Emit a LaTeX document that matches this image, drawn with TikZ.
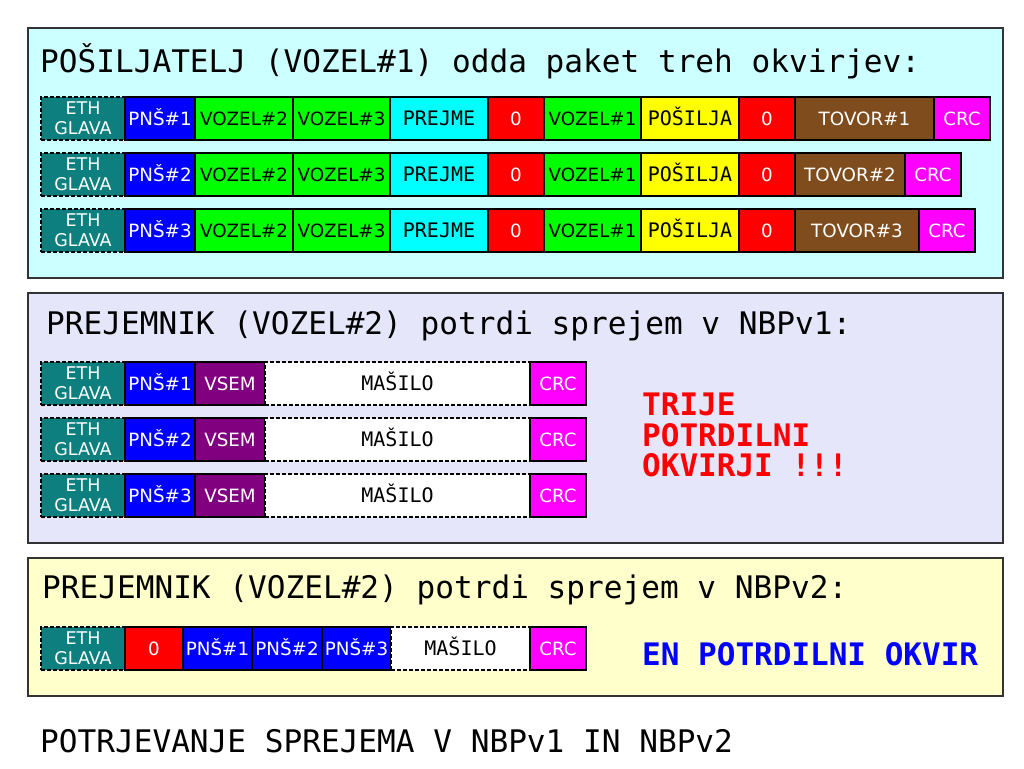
\documentclass[tikz,border=0pt]{standalone}
\usepackage{fontspec}
\setmainfont{DejaVu Sans}
\newfontfamily\monof{DejaVu Sans Mono}
\definecolor{pone}{HTML}{CCFFFF}
\definecolor{ptwo}{HTML}{E6E6FA}
\definecolor{pthree}{HTML}{FFFFCC}
\definecolor{ethc}{HTML}{0E7F7F}
\definecolor{grn}{HTML}{00FF00}
\definecolor{brn}{HTML}{7F4C1E}
\definecolor{purp}{HTML}{800080}
\definecolor{bordc}{HTML}{333333}
\definecolor{cyn}{HTML}{00FFFF}
\definecolor{mgt}{HTML}{FF00FF}
\definecolor{blu}{HTML}{0000FF}
\definecolor{rd}{HTML}{FF0000}
\definecolor{yel}{HTML}{FFFF00}
\begin{document}
\begin{tikzpicture}[x=1pt,y=-1pt,
  panelbox/.style={draw=bordc,line width=1.4pt},
  titletext/.style={anchor=west,inner sep=0pt,font=\monof\fontsize{31.1}{32}\selectfont},
  cellbox/.style={draw=black,line width=1.2pt,anchor=north west,minimum height=43pt,inner sep=0pt,outer sep=0pt,align=center,font=\fontsize{18.3}{20}\selectfont},
  oneline/.style={text height=14pt,text depth=0pt},
  monotext/.style={font=\monof\fontsize{20}{20}\selectfont},
  cetb/.style={cellbox,fill=ethc,text=white,dashed,dash pattern=on 4pt off 2pt,font=\fontsize{17.5}{20}\selectfont},
  cpnb/.style={cellbox,oneline,fill=blu,text=white},
  cvzb/.style={cellbox,oneline,fill=grn,text=black},
  cprb/.style={cellbox,oneline,fill=cyn,text=black,monotext},
  czrb/.style={cellbox,oneline,fill=rd,text=white},
  cpsb/.style={cellbox,oneline,fill=yel,text=black,monotext},
  ctvb/.style={cellbox,oneline,fill=brn,text=white},
  ccrb/.style={cellbox,oneline,fill=mgt,text=white},
  cvsb/.style={cellbox,oneline,fill=purp,text=white},
  cmsb/.style={cellbox,oneline,fill=white,text=black,dashed,dash pattern=on 4pt off 2pt,monotext},
  notetext/.style={anchor=north west,inner sep=0pt,align=left,font=\monof\bfseries\fontsize{31}{30.5}\selectfont}
]
\useasboundingbox[fill=white] (0,0) rectangle (1024,768);
% panels
\draw[panelbox,fill=pone] (28,28) rectangle (1003,278);
\draw[panelbox,fill=ptwo] (28,293) rectangle (1003,543);
\draw[panelbox,fill=pthree] (28,558) rectangle (1003,696);
% titles
\node[titletext] (t1) at (40,61) {POŠILJATELJ (VOZEL\#1) odda paket treh okvirjev:};
\node[titletext] (t2) at (46,326) {PREJEMNIK (VOZEL\#2) potrdi sprejem v NBPv1:};
\node[titletext] (t3) at (42,590) {PREJEMNIK (VOZEL\#2) potrdi sprejem v NBPv2:};
\node[titletext] (t4) at (40,741) {POTRJEVANJE SPREJEMA V NBPv1 IN NBPv2};
% panel 1 rows
\foreach \r/\y/\tw/\cx in {1/97/139/934, 2/153/110/905, 3/209/124/919}{
  \node[cetb,minimum width=84pt] (a\r eth) at (41,\y) {ETH\\GLAVA};
  \node[cpnb,minimum width=70pt] (a\r pns) at (125,\y) {PNŠ\#\r};
  \node[cvzb,minimum width=98pt] (a\r vtwo) at (195,\y) {VOZEL\#2};
  \node[cvzb,minimum width=97pt] (a\r vthree) at (293,\y) {VOZEL\#3};
  \node[cprb,minimum width=98pt] (a\r prej) at (390,\y) {PREJME};
  \node[czrb,minimum width=56pt] (a\r za) at (488,\y) {0};
  \node[cvzb,minimum width=97pt] (a\r vone) at (544,\y) {VOZEL\#1};
  \node[cpsb,minimum width=98pt] (a\r psl) at (641,\y) {POŠILJA};
  \node[czrb,minimum width=56pt] (a\r zb) at (739,\y) {0};
  \node[ctvb,minimum width=\tw pt] (a\r tov) at (795,\y) {TOVOR\#\r};
  \node[ccrb,minimum width=56pt] (a\r crc) at (\cx,\y) {CRC};
}
% panel 2 rows
\foreach \r/\y in {1/362, 2/418, 3/474}{
  \node[cetb,minimum width=84pt] (b\r eth) at (41,\y) {ETH\\GLAVA};
  \node[cpnb,minimum width=70pt] (b\r pns) at (125,\y) {PNŠ\#\r};
  \node[cvsb,minimum width=70pt] (b\r vsem) at (195,\y) {VSEM};
  \node[cmsb,minimum width=265pt] (b\r mas) at (265,\y) {MAŠILO};
  \node[ccrb,minimum width=56pt] (b\r crc) at (530,\y) {CRC};
}
\node[notetext,text=rd] (n1) at (642,393) {TRIJE\\POTRDILNI\\OKVIRJI !!!};
% panel 3 row
\node[cetb,minimum width=84pt] (c1eth) at (41,627) {ETH\\GLAVA};
\node[czrb,minimum width=58pt] (c1z) at (125,627) {0};
\node[cpnb,minimum width=69pt] (c1pa) at (183,627) {PNŠ\#1};
\node[cpnb,minimum width=70pt] (c1pb) at (252,627) {PNŠ\#2};
\node[cpnb,minimum width=69pt] (c1pc) at (322,627) {PNŠ\#3};
\node[cmsb,minimum width=139pt] (c1mas) at (391,627) {MAŠILO};
\node[ccrb,minimum width=56pt] (c1crc) at (530,627) {CRC};
\node[notetext,anchor=west,text=blu] (n2) at (642,654) {EN POTRDILNI OKVIR};
\end{tikzpicture}
\end{document}
